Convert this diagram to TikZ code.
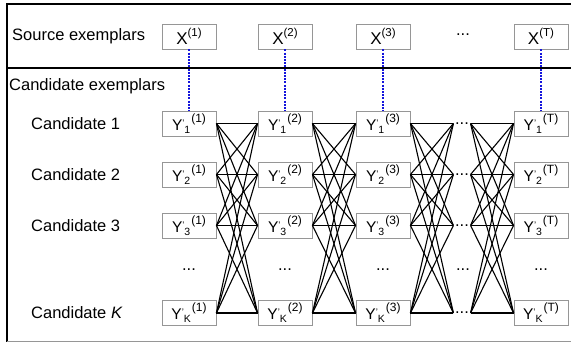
\documentclass[tikz,border=0pt]{standalone}
\usepackage{fontspec}
\setmainfont{Liberation Sans}
\definecolor{corrblue}{RGB}{20,20,220}
\definecolor{boxgray}{RGB}{150,150,150}
\newcommand{\xl}[1]{{\fontsize{17}{17}\selectfont X}\raisebox{8pt}{\fontsize{11.5}{11.5}\selectfont (#1)}}
\newcommand{\yl}[2]{{\fontsize{15.5}{15.5}\selectfont Y}\raisebox{4pt}{\fontsize{9.5}{9.5}\selectfont '}\raisebox{-3pt}{\fontsize{10.5}{10.5}\selectfont #1}\kern1pt\raisebox{7.8pt}{\fontsize{12}{12}\selectfont (#2)}}
\begin{document}
\begin{tikzpicture}[x=1pt,y=-1pt,
  box/.style={draw=boxgray, line width=0.9pt, minimum width=54pt, minimum height=25pt, inner sep=0pt, fill=white},
  lab/.style={font=\fontsize{16.5}{18}\selectfont, inner sep=0pt},
  dotn/.style={font=\fontsize{16.5}{18}\selectfont, inner ysep=0pt, inner xsep=1.5pt},
  link/.style={line width=1.1pt, black},
  corr/.style={draw=corrblue, line width=1.1pt, dash pattern=on 2pt off 1.2pt},
  frame/.style={line width=1.4pt, black},
  bottomline/.style={line width=1.2pt, draw=boxgray}]
\useasboundingbox (0,0) rectangle (571,343);

% frame
\coordinate (tl) at (7,4);
\coordinate (tr) at (571,4);
\coordinate (ml) at (7,68);
\coordinate (mr) at (571,68);
\coordinate (bl) at (7,341.5);
\coordinate (br) at (571,341.5);
\draw[frame] (tr) -- (tl) -- (bl);
\draw[frame] (ml) -- (mr);
\draw[bottomline] (bl) -- (br);

% labels
\node[lab, anchor=base west] (src) at (12,40.5) {Source exemplars};
\node[lab, anchor=base west] (cand) at (9,90.5) {Candidate exemplars};
\node[lab, anchor=west] (c1) at (31,123.5) {Candidate 1};
\node[lab, anchor=west] (c2) at (31,174.5) {Candidate 2};
\node[lab, anchor=west] (c3) at (31,225.5) {Candidate 3};
\node[lab, anchor=west] (cK) at (31,313) {Candidate \textit{K}};

% columns
\foreach \c/\x/\s in {1/189/1, 2/285/2, 3/383/3, T/541/T}{
  \node[box] (x\c) at (\x,36.5) {\xl{\s}};
  \foreach \r/\y in {1/123.5, 2/174.5, 3/225.5, K/313}{
    \node[box] (y\c\r) at (\x,\y) {\yl{\r}{\s}};
  }
  \node[lab] (vd\c) at (\x,270) {...};
  \draw[corr] (x\c.south) -- (y\c1.north);
}

% dots column
\node[lab] (dtop) at (463,35) {...};
\node[lab] (dmid) at (463,270) {...};
\foreach \r/\y in {1/123.5, 2/174.5, 3/225.5, K/313}{
  \node[dotn] (dd\r) at (462,\y) {...};
}

% links
\foreach \a/\b in {1/2, 2/3}{
  \foreach \i in {1,2,3,K}{
    \foreach \j in {1,2,3,K}{
      \draw[link] (y\a\i.east) -- (y\b\j.west);
    }
  }
}
\foreach \i in {1,2,3,K}{
  \foreach \j in {1,2,3,K}{
    \draw[link] (y3\i.east) -- (dd\j.west);
    \draw[link] (dd\i.east) -- (yT\j.west);
  }
}
\end{tikzpicture}
\end{document}
